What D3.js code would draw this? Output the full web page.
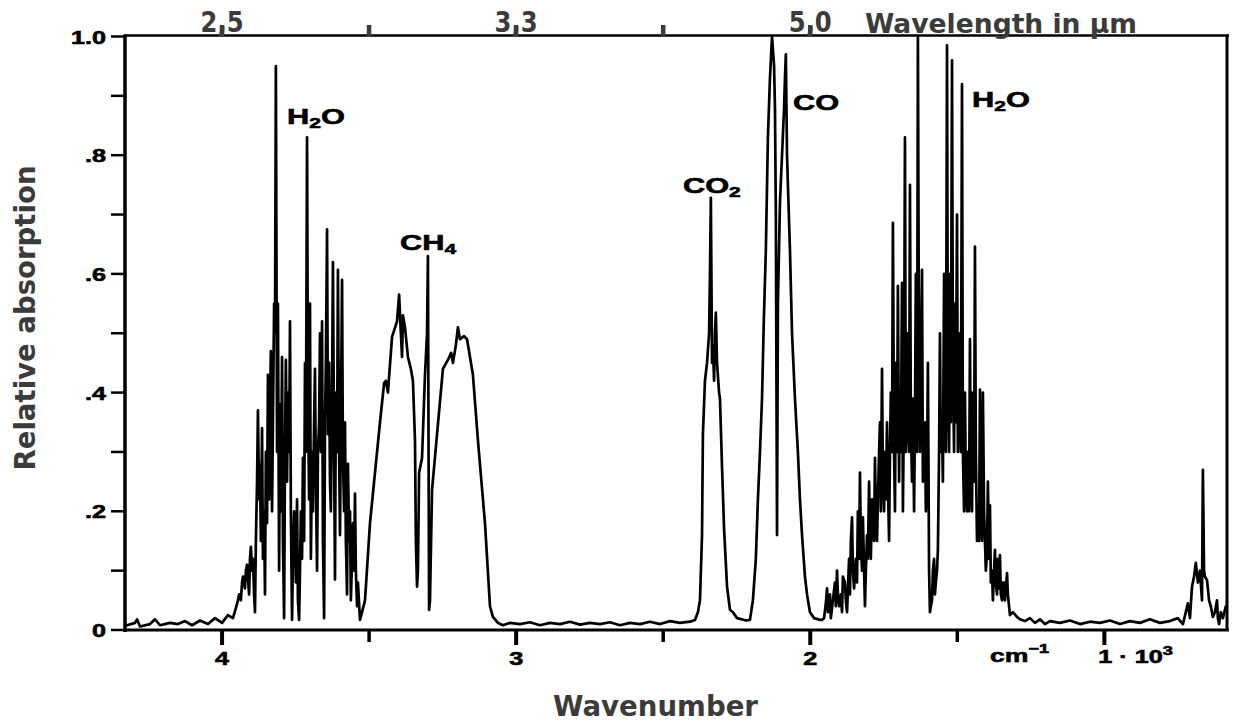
<!DOCTYPE html>
<html>
<head>
<meta charset="utf-8">
<script src="https://cdn.jsdelivr.net/npm/d3@7/dist/d3.min.js"></script>
<style>
html,body{margin:0;padding:0;background:#fff;}
svg{display:block;}
</style>
</head>
<body>
<svg id="chart" width="1233" height="722"></svg>
<script>
// ---- DATA: [wavenumber in cm^-1, relative absorption] ----
const baselineHigh = [[4330,.008],[4323,.008],[4296,.012],[4289,.018],[4279,.006],[4245,.01],[4228,.018],[4211,.008],[4177,.012],[4150,.01],[4126,.015],[4102,.008],[4075,.016],[4048,.01],[4024,.02],[4000,.012],[3980,.025],[3963,.02]];

const h2oStretchBand = [[3954,.035],[3946,.05],[3942,.06],[3936,.05],[3932,.08],[3929,.09],[3922,.07],[3919,.1],[3915,.11],[3908,.06],[3905,.12],[3902,.14],[3898,.1],[3895,.12],[3891,.06],[3888,.03],[3885,.15],[3881,.25],[3878,.37],[3874,.22],[3871,.28],[3868,.15],[3864,.34],[3861,.12],[3857,.2],[3854,.06],[3851,.3],[3847,.18],[3844,.43],[3840,.22],[3837,.38],[3834,.47],[3830,.2],[3827,.35],[3823,.55],[3820,.5],[3817,.95],[3813,.3],[3810,.55],[3806,.1],[3803,.38],[3800,.2],[3796,.46],[3793,.15],[3789,.02],[3786,.3],[3783,.455],[3779,.25],[3776,.4],[3772,.3],[3769,.52],[3766,.2],[3762,.017],[3759,.12],[3755,.2],[3752,.16],[3749,.08],[3745,.22],[3742,.05],[3738,.017],[3735,.1],[3732,.2],[3728,.12],[3725,.29],[3721,.15],[3718,.45],[3715,.3],[3711,.83],[3708,.4],[3704,.22],[3701,.55],[3698,.12],[3694,.3],[3691,.2],[3687,.35],[3684,.44],[3681,.25],[3677,.1],[3674,.3],[3670,.35],[3667,.5],[3664,.3],[3660,.52],[3657,.15],[3653,.02],[3650,.35],[3647,.45],[3643,.675],[3640,.33],[3636,.45],[3633,.25],[3630,.2],[3626,.4],[3623,.62],[3619,.3],[3616,.085],[3613,.4],[3609,.3],[3606,.607],[3602,.3],[3599,.16],[3596,.35],[3592,.59],[3589,.29],[3585,.2],[3582,.35],[3579,.15],[3575,.06],[3572,.28],[3568,.15],[3565,.2],[3562,.05],[3558,.12],[3555,.18],[3551,.1],[3548,.23],[3545,.1],[3541,.04],[3538,.08],[3531,.017]];

const ch4Band = [[3524,.03],[3514,.05],[3497,.18],[3480,.265],[3463,.35],[3449,.416],[3443,.42],[3436,.4],[3422,.494],[3405,.52],[3398,.565],[3392,.5],[3388,.46],[3385,.53],[3378,.51],[3368,.46],[3358,.44],[3351,.42],[3344,.32],[3341,.15],[3337,.073],[3334,.1],[3330,.265],[3320,.29],[3310,.43],[3303,.5],[3300,.63],[3296,.034],[3293,.05],[3286,.236],[3269,.33],[3249,.44],[3232,.455],[3221,.467],[3215,.45],[3205,.48],[3198,.51],[3191,.49],[3177,.495],[3167,.49],[3157,.46],[3147,.43],[3130,.32],[3106,.18],[3089,.04],[3079,.022],[3062,.012],[3045,.008]];

const baselineMid = [[3021,.012],[2987,.01],[2953,.013],[2919,.008],[2885,.012],[2851,.01],[2817,.014],[2783,.009],[2749,.012],[2715,.01],[2681,.013],[2647,.008],[2613,.012],[2579,.01],[2545,.014],[2511,.01],[2477,.015],[2443,.012],[2409,.014],[2392,.017]];

const co2Band = [[2382,.03],[2375,.05],[2368,.16],[2365,.33],[2358,.42],[2351,.45],[2344,.5],[2341,.6],[2338,.728],[2334,.45],[2331,.48],[2327,.42],[2324,.5],[2321,.535],[2317,.45],[2310,.4],[2307,.39],[2300,.275],[2293,.17],[2283,.073],[2273,.034],[2263,.03],[2249,.02],[2232,.018],[2219,.016],[2205,.017]];

const coBand = [[2195,.05],[2185,.12],[2178,.22],[2171,.3],[2164,.39],[2158,.52],[2151,.64],[2144,.83],[2137,.93],[2130,1.0],[2123,.95],[2120,.88],[2117,.7],[2113,.16],[2110,.55],[2103,.72],[2096,.8],[2089,.88],[2086,.93],[2083,.97],[2079,.8],[2076,.75],[2069,.64],[2062,.5],[2052,.39],[2042,.3],[2035,.22],[2028,.16],[2018,.09],[2011,.06],[2001,.03],[1987,.02],[1967,.017]];

const h2oBendBand = [[1960,.017],[1953,.02],[1946,.05],[1943,.07],[1940,.03],[1933,.06],[1930,.02],[1923,.05],[1916,.08],[1913,.04],[1909,.1],[1906,.06],[1902,.04],[1896,.06],[1892,.03],[1889,.09],[1882,.08],[1879,.05],[1875,.03],[1868,.12],[1865,.06],[1862,.15],[1858,.19],[1855,.1],[1851,.07],[1845,.12],[1841,.08],[1838,.2],[1834,.12],[1831,.265],[1828,.15],[1824,.1],[1821,.19],[1817,.1],[1814,.04],[1811,.1],[1807,.16],[1804,.12],[1800,.25],[1797,.15],[1794,.12],[1790,.22],[1787,.2],[1783,.15],[1780,.29],[1777,.2],[1773,.15],[1770,.22],[1766,.3],[1763,.35],[1760,.2],[1756,.44],[1753,.25],[1749,.2],[1746,.3],[1743,.22],[1739,.35],[1736,.25],[1732,.15],[1729,.3],[1726,.4],[1722,.3],[1719,.686],[1715,.3],[1712,.2],[1709,.45],[1705,.3],[1702,.58],[1698,.25],[1695,.4],[1692,.3],[1688,.585],[1685,.2],[1681,.4],[1678,.83],[1675,.3],[1671,.35],[1668,.5],[1664,.3],[1661,.75],[1658,.35],[1654,.25],[1651,.39],[1647,.2],[1644,.35],[1641,.6],[1637,.3],[1634,1.0],[1630,.4],[1627,.3],[1624,.45],[1620,.607],[1617,.25],[1613,.3],[1610,.35],[1607,.2],[1603,.25],[1600,.45],[1596,.1],[1593,.03],[1590,.04],[1586,.05],[1583,.1],[1579,.12],[1576,.06],[1573,.08],[1569,.1],[1566,.135],[1562,.3],[1559,.5],[1556,.3],[1552,.35],[1549,.25],[1545,.6],[1542,.4],[1539,.3],[1535,.985],[1532,.4],[1528,.3],[1525,.6],[1522,.35],[1518,.96],[1515,.45],[1511,.3],[1508,.55],[1505,.35],[1501,.7],[1498,.3],[1494,.4],[1491,.5],[1488,.3],[1484,.92],[1481,.3],[1477,.2],[1474,.4],[1471,.25],[1467,.2],[1464,.3],[1460,.2],[1457,.49],[1454,.25],[1450,.2],[1447,.4],[1443,.25],[1440,.646],[1437,.3],[1433,.15],[1430,.2],[1426,.15],[1423,.405],[1420,.2],[1416,.15],[1413,.4],[1409,.2],[1406,.15],[1403,.1],[1399,.13],[1396,.25],[1392,.12],[1389,.21],[1386,.08],[1382,.1],[1379,.05],[1375,.1],[1372,.135],[1369,.08],[1365,.06],[1362,.12],[1358,.07],[1355,.126],[1352,.06],[1348,.05],[1345,.08],[1341,.08],[1338,.05],[1331,.096],[1328,.06],[1324,.04],[1321,.025],[1311,.03],[1297,.022],[1287,.018]];

const baselineLow = [[1270,.015],[1253,.02],[1236,.012],[1219,.018],[1202,.01],[1185,.015],[1151,.012],[1117,.016],[1083,.01],[1049,.014],[1015,.012],[981,.016],[947,.01],[913,.015],[879,.012],[845,.018],[811,.012],[777,.015],[750,.02],[733,.01]];

const co2BendBand = [[723,.03],[716,.045],[709,.02],[702,.073],[695,.09],[689,.113],[682,.08],[675,.1],[668,.05],[665,.27],[661,.1],[658,.09],[651,.084],[644,.05],[638,.04],[631,.022],[624,.03],[617,.05],[614,.02],[610,.01],[604,.03],[597,.02],[587,.04],[583,.03]];

const yTicks = [0, 0.2, 0.4, 0.6, 0.8, 1.0];
const yTickLabels = ["0", ".2", ".4", ".6", ".8", "1.0"];
const yMinorTicks = [0.1, 0.3, 0.5, 0.7, 0.9];
const xTicks = [4000, 3000, 2000, 1000];
const xTickLabels = ["4", "3", "2", "1"];
const xMinorTicks = [3500, 2500, 1500];
const wavelengthTicks = [2.5, 2.857, 3.333, 4.0, 5.0];
const wavelengthLabels = ["2,5", "", "3,3", "", "5,0"];
const bandMain = ["H", "CH", "CO", "CO", "H"];
const bandSub = ["2", "4", "2", "", "2"];
const bandTail = ["O", "", "", "", "O"];
const bandAnchorK = [3779, 3395, 2433, 2059, 1450];
const bandAnchorA = [0.853, 0.64, 0.737, 0.877, 0.882];

// ---- CHART ----
const spectrum = [].concat(baselineHigh, h2oStretchBand, ch4Band, baselineMid, co2Band, coBand, h2oBendBand, baselineLow, co2BendBand);

const svg = d3.select("#chart");
svg.append("rect").attr("width", 1233).attr("height", 722).attr("fill", "#fff");

const x = d3.scaleLinear().domain([4330, 583]).range([125, 1227]);
const y = d3.scaleLinear().domain([0, 1]).range([630, 36.5]);

const blackFont = "'Liberation Sans', Arial, Helvetica, sans-serif";
const grayFont = "'DejaVu Sans', Verdana, sans-serif";
const gray = "#3b3b3b";
const SX = 1.4;

// spectrum line
svg.append("path")
  .datum(spectrum)
  .attr("d", d3.line().x(d => x(d[0])).y(d => y(d[1])))
  .attr("fill", "none")
  .attr("stroke", "#000")
  .attr("stroke-width", 2.7)
  .attr("stroke-linejoin", "round");

// frame
const frame = svg.append("g").attr("stroke", "#000");
frame.append("line").attr("x1", 125).attr("x2", 125).attr("y1", 34.5).attr("y2", 632).attr("stroke-width", 3.5);
frame.append("line").attr("x1", 123).attr("x2", 1229).attr("y1", 630).attr("y2", 630).attr("stroke-width", 3);
frame.append("line").attr("x1", 124).attr("x2", 1229).attr("y1", 35.5).attr("y2", 35.5).attr("stroke-width", 2.5);
frame.append("line").attr("x1", 1227).attr("x2", 1227).attr("y1", 34.5).attr("y2", 631).attr("stroke-width", 3);

// y ticks
frame.selectAll(".yt").data(yTicks.concat(yMinorTicks)).join("line")
  .attr("x1", 111).attr("x2", 125)
  .attr("y1", d => y(d)).attr("y2", d => y(d))
  .attr("stroke-width", 2.5);

// x ticks (bottom)
frame.selectAll(".xt").data(xTicks).join("line")
  .attr("x1", d => x(d)).attr("x2", d => x(d))
  .attr("y1", 630).attr("y2", 645).attr("stroke-width", 4);
frame.selectAll(".xm").data(xMinorTicks).join("line")
  .attr("x1", d => x(d)).attr("x2", d => x(d))
  .attr("y1", 630).attr("y2", 642).attr("stroke-width", 3.5);

// top wavelength ticks
svg.selectAll(".tt").data(wavelengthTicks).join("line")
  .attr("x1", d => x(10000 / d)).attr("x2", d => x(10000 / d))
  .attr("y1", 25).attr("y2", 36)
  .attr("stroke", gray).attr("stroke-width", 4.5);

function stretched(txt, px, py, anchor, size) {
  return svg.append("text")
    .attr("transform", `translate(${px},${py}) scale(${SX},1)`)
    .attr("text-anchor", anchor)
    .attr("font-family", blackFont)
    .attr("font-weight", "bold")
    .attr("font-size", size)
    .attr("fill", "#000")
    .attr("stroke", "#000")
    .attr("stroke-width", 0.6)
    .text(txt);
}

// y tick labels
yTicks.forEach((v, i) => stretched(yTickLabels[i], 106, y(v) + 7, "end", 18));

// x tick labels
xTicks.forEach((v, i) => {
  if (v === 1000) {
    const t = stretched("", x(v) - 6, 663, "start", 18);
    t.append("tspan").text(xTickLabels[i] + " \u00B7 10");
    t.append("tspan").attr("font-size", 13).attr("dy", -8).text("3");
  } else {
    stretched(xTickLabels[i], x(v), 665, "middle", 18);
  }
});
// unit cm^-1
{
  const t = stretched("", 990, 662, "start", 19);
  t.append("tspan").text("cm");
  t.append("tspan").attr("font-size", 13).attr("dy", -9).text("\u2212" + "1");
}

// band annotations
bandMain.forEach((m, i) => {
  const t = stretched("", x(bandAnchorK[i]), y(bandAnchorA[i]), "start", 22);
  t.append("tspan").text(m);
  if (bandSub[i]) t.append("tspan").attr("font-size", 15).attr("dy", 4).text(bandSub[i]);
  if (bandTail[i]) t.append("tspan").attr("dy", -4).text(bandTail[i]);
});

// gray titles
function grayText(txt, px, py, size, len) {
  return svg.append("text")
    .attr("x", px).attr("y", py)
    .attr("font-family", grayFont)
    .attr("font-weight", "bold")
    .attr("font-size", size)
    .attr("fill", gray)
    .attr("textLength", len)
    .attr("lengthAdjust", "spacingAndGlyphs")
    .text(txt);
}
wavelengthTicks.forEach((d, i) => {
  if (wavelengthLabels[i]) {
    grayText(wavelengthLabels[i], x(10000 / d) - 21.5, 32, 28, 43);
  }
});
grayText("Wavelength in \u00B5m", 865, 33, 26, 272);
grayText("Wavenumber", 553, 716, 28, 205);
svg.append("text")
  .attr("transform", "translate(35,318) rotate(-90)")
  .attr("text-anchor", "middle")
  .attr("font-family", grayFont)
  .attr("font-weight", "bold")
  .attr("font-size", 28)
  .attr("fill", gray)
  .attr("textLength", 305)
  .attr("lengthAdjust", "spacingAndGlyphs")
  .text("Relative absorption");
</script>
</body>
</html>
